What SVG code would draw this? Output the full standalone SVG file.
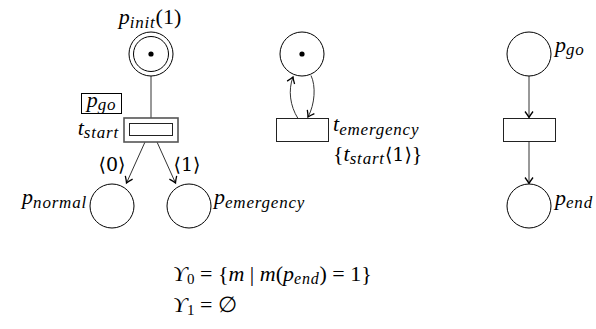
<svg xmlns="http://www.w3.org/2000/svg" width="596" height="329" viewBox="0 0 596 329" font-family="Liberation Serif, DejaVu Serif, serif">
<style>
.pl{fill:#fff;stroke:#000;stroke-width:1}
.tr{fill:#fff;stroke:#222;stroke-width:1}
.arc{fill:none;stroke:#333;stroke-width:1}
.tok{fill:#000}
text{font-size:22px;fill:#000}
.i{font-style:italic}
.s{font-size:17px;font-style:italic;letter-spacing:0.8px}
.u{font-style:normal}
.f{font-size:22px}
.fs{font-size:16px;font-style:italic;letter-spacing:0.8px}
.ab{font-family:"DejaVu Serif",serif;font-size:19px}
</style>
<defs>
<marker id="ah" viewBox="-8 -5 10 10" refX="0" refY="0" markerWidth="10" markerHeight="10" markerUnits="userSpaceOnUse" orient="auto">
<path d="M-6,-4 Q-2,-1 0,0 Q-2,1 -6,4" fill="none" stroke="#000" stroke-width="1.3"/>
</marker>
</defs>
<g id="connectors">
<line class="arc" x1="151" y1="76" x2="151" y2="118"/>
<line class="arc" x1="145" y1="142" x2="126.5" y2="183" marker-end="url(#ah)"/>
<line class="arc" x1="157" y1="142" x2="175.5" y2="183" marker-end="url(#ah)"/>
<path class="arc" d="M298,118.5 C290,106 288,90 293,77" marker-end="url(#ah)"/>
<path class="arc" d="M311,75.5 C316,86 315,104 308,117" marker-end="url(#ah)"/>
<line class="arc" x1="529" y1="76" x2="529" y2="117.5" marker-end="url(#ah)"/>
<line class="arc" x1="529" y1="141.5" x2="529" y2="183.5" marker-end="url(#ah)"/>
</g>
<g id="p_init">
<circle class="pl" cx="151" cy="54" r="22"/>
<circle class="pl" cx="151" cy="54" r="17.5"/>
<circle class="tok" cx="151" cy="54" r="2.6"/>
<text x="150" y="24" text-anchor="middle"><tspan class="i">p</tspan><tspan class="s" dy="4">init</tspan><tspan dy="-4">(1)</tspan></text>
</g>
<g id="guard_pgo">
<rect x="81.5" y="93.5" width="40" height="20" fill="#fff" stroke="#000"/>
<text x="101.5" y="107" text-anchor="middle"><tspan class="i">p</tspan><tspan class="s" dy="3">go</tspan></text>
</g>
<g id="t_start">
<rect x="124" y="118" width="54" height="24" fill="#fff" stroke="#555" stroke-width="1.6"/>
<rect x="129.5" y="123.5" width="43" height="12" fill="#fff" stroke="#222"/>
<text x="119" y="135" text-anchor="end"><tspan class="i">t</tspan><tspan class="s" dy="3">start</tspan></text>
<text class="ab" x="112" y="171" text-anchor="middle">⟨0⟩</text>
<text class="ab" x="187" y="171" text-anchor="middle">⟨1⟩</text>
</g>
<g id="p_normal">
<circle class="pl" cx="112" cy="206" r="22"/>
<text x="87" y="204" text-anchor="end"><tspan class="i">p</tspan><tspan class="s" dy="4">normal</tspan></text>
</g>
<g id="p_emergency">
<circle class="pl" cx="189" cy="206" r="22"/>
<text x="214" y="204"><tspan class="i">p</tspan><tspan class="s" dy="4">emergency</tspan></text>
</g>
<g id="p_mid">
<circle class="pl" cx="302" cy="54" r="22"/>
<circle class="tok" cx="302" cy="54" r="2.6"/>
</g>
<g id="t_emergency">
<rect class="tr" x="276.5" y="118.5" width="52" height="23"/>
<text x="333" y="131"><tspan class="i">t</tspan><tspan class="s" dy="4">emergency</tspan></text>
<text x="333" y="161">{<tspan class="i">t</tspan><tspan class="s" dy="3">start</tspan><tspan class="ab" dy="-3">⟨1⟩</tspan>}</text>
</g>
<g id="p_go">
<circle class="pl" cx="529" cy="54" r="22"/>
<text x="555" y="52"><tspan class="i">p</tspan><tspan class="s" dy="3">go</tspan></text>
</g>
<g id="t_go">
<rect class="tr" x="503.5" y="118.5" width="52" height="23"/>
</g>
<g id="p_end">
<circle class="pl" cx="529" cy="206" r="22"/>
<text x="555" y="205"><tspan class="i">p</tspan><tspan class="s" dy="3">end</tspan></text>
</g>
<g id="formulas">
<text class="f" x="173" y="281"><tspan class="i">ϒ</tspan><tspan class="u" font-size="15" dy="3">0</tspan><tspan dy="-3"> = {</tspan><tspan class="i">m</tspan> | <tspan class="i">m</tspan>(<tspan class="i">p</tspan><tspan class="fs" dy="3">end</tspan><tspan dy="-3">) = 1}</tspan></text>
<text class="f" x="173" y="312"><tspan class="i">ϒ</tspan><tspan class="u" font-size="15" dy="3">1</tspan><tspan dy="-3"> = ∅</tspan></text>
</g>
</svg>
